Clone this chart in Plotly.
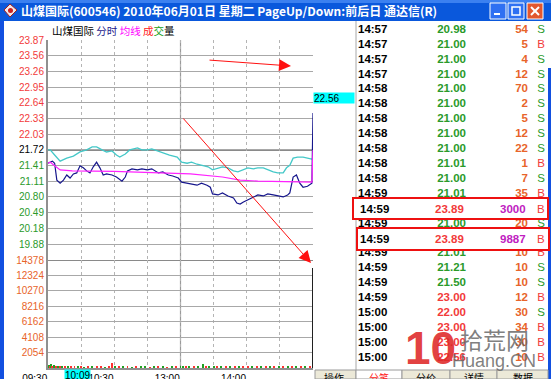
import plotly.graph_objects as go

W, H = 551, 379

# ---------------- data ----------------
title_text = "山煤国际(600546) 2010年06月01日 星期二 PageUp/Down:前后日 通达信(R)"
stock_name = "山煤国际"
prev_close = 21.72

price_ticks = [23.87, 23.56, 23.26, 22.95, 22.64, 22.33, 22.03, 21.72,
               21.41, 21.11, 20.80, 20.49, 20.18, 19.88]
pct_ticks = ["9.90%", "8.48%", "7.07%", "5.66%", "4.24%", "2.83%", "1.41%", "0.00%",
             "1.41%", "2.83%", "4.24%", "5.66%", "7.07%", "8.48%"]
vol_ticks = [14378, 12324, 10270, 8216, 6162, 4108, 2054]
time_tick_min = [0, 60, 120, 180]
time_tick_text = ["09:30", "10:30", "13:00", "14:00"]

# stock price line (minute index from 09:30, price)
price_min = [0, 2, 4, 6, 8, 11, 14, 17, 20, 23, 26, 29, 32, 35, 38, 41, 44, 47, 50, 53,
             58, 62, 67, 70, 72, 76, 81, 85, 90, 94, 97, 100, 104, 109, 113, 118, 121, 126,
             130, 135, 139, 144, 147, 149, 154, 158, 163, 168, 171, 174, 177, 181, 186, 190,
             195, 199, 204, 208, 213, 217, 219, 222, 225, 228, 231, 235, 239, 240]
price_val = [21.46, 21.48, 21.50, 21.46, 21.13, 21.07, 21.13, 21.23, 21.17, 21.25, 21.27,
             21.41, 21.37, 21.31, 21.27, 21.39, 21.48, 21.37, 21.23, 21.25, 21.23, 21.19,
             21.11, 21.19, 21.31, 21.35, 21.33, 21.35, 21.33, 21.35, 21.31, 21.27, 21.29,
             21.23, 21.21, 21.17, 21.09, 21.07, 21.05, 21.03, 21.07, 21.03, 20.99, 20.86,
             20.84, 20.88, 20.82, 20.78, 20.68, 20.66, 20.70, 20.74, 20.80, 20.84, 20.82,
             20.86, 20.84, 20.82, 20.80, 20.84, 20.88, 21.19, 21.23, 21.07, 20.99, 21.01,
             21.07, 22.44]

# overlay (index) line, expressed on the same price scale
index_min = [0, 2, 6, 11, 17, 23, 29, 35, 40, 44, 49, 53, 58, 62, 65, 70, 74, 81, 85, 90,
             94, 99, 104, 110, 117, 121, 126, 130, 135, 140, 145, 149, 154, 158, 163, 168,
             172, 177, 181, 186, 190, 195, 199, 204, 208, 213, 216, 219, 222, 226, 231, 235,
             239]
index_val = [21.72, 21.72, 21.62, 21.50, 21.56, 21.60, 21.68, 21.72, 21.78, 21.78, 21.72,
             21.68, 21.70, 21.62, 21.58, 21.64, 21.72, 21.76, 21.72, 21.72, 21.74, 21.70,
             21.66, 21.62, 21.58, 21.48, 21.46, 21.48, 21.44, 21.42, 21.39, 21.33, 21.37,
             21.39, 21.37, 21.31, 21.29, 21.33, 21.37, 21.35, 21.37, 21.37, 21.33, 21.29,
             21.27, 21.27, 21.37, 21.42, 21.56, 21.58, 21.58, 21.56, 21.54]

# average price line
avg_min = [0, 2, 11, 22, 60, 113, 129, 158, 174, 190, 222, 239, 240]
avg_val = [21.46, 21.48, 21.33, 21.31, 21.30, 21.27, 21.25, 21.19, 21.13, 21.11, 21.09,
           21.09, 21.72]

# volume bars (minute, lots, direction 1=up -1=down 0=flat)
vol_min = [1, 2, 3, 4, 5, 6, 7, 9, 11, 13, 15, 18, 21, 24, 27, 30, 33, 36, 40, 44, 48, 52,
           55, 58, 61, 64, 68, 72, 76, 80, 84, 88, 92, 96, 100, 104, 108, 112, 116, 120,
           122, 125, 128, 132, 136, 140, 143, 146, 150, 153, 157, 161, 165, 169, 173, 177,
           181, 185, 189, 193, 197, 201, 205, 209, 213, 217, 221, 225, 229, 233, 237, 240]
vol_val = [420, 300, 520, 260, 380, 240, 300, 200, 260, 180, 150, 200, 170, 140, 160, 150,
           130, 180, 150, 140, 170, 130, 160, 640, 200, 170, 150, 140, 130, 150, 140, 160,
           130, 150, 170, 140, 130, 150, 140, 160, 250, 180, 160, 140, 170, 520, 200, 260,
           180, 150, 170, 140, 160, 150, 170, 140, 330, 160, 150, 180, 140, 160, 150, 170,
           140, 160, 180, 150, 170, 160, 180, 13300]
vol_dir = [-1, 1, -1, 1, -1, -1, 1, -1, 1, -1, 1, -1, 1, 1, -1, 1, -1, 1, -1, 1, 1, -1,
           1, 1, -1, 1, -1, 1, -1, 1, -1, -1, 1, -1, 1, -1, 1, -1, 1, -1, -1, 1, -1, 1,
           -1, -1, 1, -1, -1, 1, -1, 1, -1, 1, -1, 1, 1, -1, 1, -1, 1, -1, 1, -1, 1, -1,
           1, -1, 1, -1, 1, 0]

# cursor labels
cursor_time = "10:09"
cursor_min = 39
cursor_price = "22.56"

# tick-by-tick trades (right panel)
trade_time = ["14:57", "14:57", "14:57", "14:57", "14:58", "14:58", "14:58", "14:58",
              "14:58", "14:58", "14:58", "14:59", "14:59", "14:59", "14:59", "14:59",
              "14:59", "14:59", "14:59", "15:00", "15:00", "15:00", "15:00"]
trade_price = [20.98, 21.00, 21.00, 21.00, 21.00, 21.00, 21.00, 21.00, 21.00, 21.01,
               21.00, 21.01, 23.89, 21.00, 23.89, 21.01, 21.21, 21.50, 23.00, 22.00,
               23.00, 23.00, 22.56]
trade_vol = [54, 5, 4, 12, 70, 2, 5, 12, 22, 1, 7, 35, 3000, 20, 9887, 10, 10, 10, 12, 30,
             34, 30, 10]
trade_side = ["S", "B", "S", "S", "S", "S", "S", "S", "S", "B", "S", "B", "B", "S", "B",
              "B", "S", "S", "B", "S", "B", "B", "B"]
highlight_rows = [12, 14]

tab_labels = ["分笔", "分价", "详情", "数据"]
button_label = "操作"
legend_parts = [("山煤国际", "#000000"), ("分时", "#1a1a8c"), ("均线", "#ff00ff"),
                ("成", "#ff2020"), ("交", "#20a020"), ("量", "#000000")]

# ---------------- helpers ----------------
def px(x):
    return x / W


def py(y):
    return 1 - y / H


RED, GREEN, BLACK = "#f23a3a", "#2a9a2a", "#000000"
ORANGE = "#e8642a"
FONT = "Liberation Sans, Arial, sans-serif"
CJK = "Noto Sans CJK SC"


def span(t, c):
    return f"<span style='color:{c}'>{t}</span>"


def pcolor(v):
    if abs(v - prev_close) < 1e-9:
        return BLACK
    return RED if v > prev_close else GREEN


def note(x, y, text, xanchor="center", yanchor="middle", **kw):
    d = dict(xref="paper", yref="paper", x=px(x), y=py(y), text=text, showarrow=False,
             xanchor=xanchor, yanchor=yanchor)
    d.update(kw)
    return d


# price axis scale (23.87 at y=40px, 19.88 at y=244px, panel to y=260px)
p_per_px = (price_ticks[0] - price_ticks[-1]) / (244 - 40)
p_bottom = price_ticks[0] - (260 - 40) * p_per_px

fig = go.Figure()

fig.add_trace(go.Scatter(x=index_min, y=index_val, mode="lines",
                         line=dict(color="#44c8c8", width=1.3), xaxis="x", yaxis="y",
                         hoverinfo="skip"))
fig.add_trace(go.Scatter(x=price_min, y=price_val, mode="lines",
                         line=dict(color="#16168c", width=1.2), xaxis="x", yaxis="y",
                         hoverinfo="skip"))
fig.add_trace(go.Scatter(x=avg_min, y=avg_val, mode="lines",
                         line=dict(color="#ff22ff", width=1.2), xaxis="x", yaxis="y",
                         hoverinfo="skip"))
vcol = ["#ff3030" if d > 0 else ("#20a020" if d < 0 else "#202020") for d in vol_dir]
fig.add_trace(go.Bar(x=vol_min, y=vol_val, width=0.9, marker=dict(color=vcol, line=dict(width=0)),
                     xaxis="x", yaxis="y2", hoverinfo="skip"))

# trade list as text traces on a pixel-like overlay axis
rows = list(range(len(trade_time)))
norm = [i for i in rows if i not in highlight_rows]
price_col = [RED if p > prev_close else GREEN for p in trade_price]
vol_col = ["#c020c0" if v >= 1000 else ORANGE for v in trade_vol]
side_col = [RED if s == "B" else GREEN for s in trade_side]
lf = dict(family=FONT, size=11.5)
fig.add_trace(go.Scatter(x=[358] * len(norm), y=norm, mode="text",
                         text=[f"<b>{trade_time[i]}</b>" for i in norm],
                         textposition="middle right",
                         textfont=dict(color=BLACK, **lf), xaxis="x2", yaxis="y5",
                         hoverinfo="skip"))
fig.add_trace(go.Scatter(x=[466] * len(norm), y=norm, mode="text",
                         text=[f"<b>{trade_price[i]:.2f}</b>" for i in norm],
                         textposition="middle left",
                         textfont=dict(color=[price_col[i] for i in norm], **lf),
                         xaxis="x2", yaxis="y5", hoverinfo="skip"))
fig.add_trace(go.Scatter(x=[528] * len(norm), y=norm, mode="text",
                         text=[f"<b>{trade_vol[i]}</b>" for i in norm],
                         textposition="middle left",
                         textfont=dict(color=[vol_col[i] for i in norm], **lf),
                         xaxis="x2", yaxis="y5", hoverinfo="skip"))
fig.add_trace(go.Scatter(x=[541] * len(norm), y=norm, mode="text",
                         text=[trade_side[i] for i in norm],
                         textposition="middle center",
                         textfont=dict(color=[side_col[i] for i in norm], **lf),
                         xaxis="x2", yaxis="y5", hoverinfo="skip"))

row0, row_h = 30, 14.9

shapes = []
annotations = []

# window chrome
shapes += [
    dict(type="rect", xref="paper", yref="paper", x0=0, x1=1, y0=py(21), y1=1,
         fillcolor="#0a58dc", line=dict(width=0), layer="above"),
    dict(type="rect", xref="paper", yref="paper", x0=0, x1=1, y0=py(3), y1=1,
         fillcolor="#3b80f0", line=dict(width=0), layer="above"),
    dict(type="rect", xref="paper", yref="paper", x0=0, x1=px(4), y0=0, y1=py(21),
         fillcolor="#1250e0", line=dict(width=0), layer="above"),
    dict(type="rect", xref="paper", yref="paper", x0=px(548), x1=1, y0=0, y1=py(68),
         fillcolor="#1250e0", line=dict(width=0), layer="above"),
    # buttons
    dict(type="rect", xref="paper", yref="paper", x0=px(490), x1=px(506), y0=py(19), y1=py(3),
         fillcolor="#2f70f2", line=dict(color="white", width=1), layer="above"),
    dict(type="rect", xref="paper", yref="paper", x0=px(508), x1=px(524), y0=py(19), y1=py(3),
         fillcolor="#2f70f2", line=dict(color="white", width=1), layer="above"),
    dict(type="rect", xref="paper", yref="paper", x0=px(527), x1=px(543), y0=py(19), y1=py(3),
         fillcolor="#e2572e", line=dict(color="white", width=1), layer="above"),
    dict(type="rect", xref="paper", yref="paper", x0=px(494), x1=px(500), y0=py(15), y1=py(13),
         fillcolor="white", line=dict(width=0), layer="above"),
    dict(type="rect", xref="paper", yref="paper", x0=px(512), x1=px(520), y0=py(15), y1=py(7),
         fillcolor="rgba(0,0,0,0)", line=dict(color="white", width=1.5), layer="above"),
    dict(type="line", xref="paper", yref="paper", x0=px(531), x1=px(539), y0=py(7), y1=py(15),
         line=dict(color="white", width=2), layer="above"),
    dict(type="line", xref="paper", yref="paper", x0=px(531), x1=px(539), y0=py(15), y1=py(7),
         line=dict(color="white", width=2), layer="above"),
    # icon
    dict(type="path", xref="paper", yref="paper",
         path=f"M {px(4)} {py(10)} L {px(10)} {py(4)} L {px(17)} {py(10)} L {px(10)} {py(17)} Z",
         fillcolor="#f4e8e8", line=dict(color="#a02020", width=1), layer="above"),
    dict(type="circle", xref="paper", yref="paper", x0=px(8), x1=px(13), y0=py(13), y1=py(8),
         fillcolor="#d02020", line=dict(width=0), layer="above"),
]

# chart special lines
shapes += [
    dict(type="line", xref="x", yref="paper", x0=120, x1=120, y0=py(368), y1=py(40),
         line=dict(color="#9a9a9a", width=1.2), layer="below"),
    dict(type="line", xref="paper", yref="y", x0=px(48), x1=px(313), y0=prev_close, y1=prev_close,
         line=dict(color="#8a8a8a", width=2), layer="below"),
    dict(type="line", xref="paper", yref="y2", x0=px(48), x1=px(313), y0=vol_ticks[0], y1=vol_ticks[0],
         line=dict(color="#8a8a8a", width=2), layer="below"),
    # list panel border
    dict(type="line", xref="paper", yref="paper", x0=px(356), x1=px(356), y0=py(370), y1=py(21),
         line=dict(color="#a8a8a8", width=1), layer="below"),
]

# highlight boxes around big trades
box_px = {12: (353, 548, 198, 219), 14: (357, 549, 228, 250)}
for r in highlight_rows:
    x0, x1, y0, y1 = box_px[r]
    shapes.append(dict(type="rect", xref="paper", yref="paper", x0=px(x0), x1=px(x1),
                       y0=py(y1), y1=py(y0), fillcolor="white",
                       line=dict(color="#ee1111", width=2), layer="above"))
    annotations += [
        dict(xref="x2", yref="y5", x=358, y=r, text=f"<b>{trade_time[r]}</b>", showarrow=False,
             xanchor="left", yanchor="middle", font=dict(color=BLACK, **lf)),
        dict(xref="x2", yref="y5", x=466, y=r, text=f"<b>{trade_price[r]:.2f}</b>", showarrow=False,
             xanchor="right", yanchor="middle", font=dict(color=price_col[r], **lf)),
        dict(xref="x2", yref="y5", x=528, y=r, text=f"<b>{trade_vol[r]}</b>", showarrow=False,
             xanchor="right", yanchor="middle", font=dict(color=vol_col[r], **lf)),
        dict(xref="x2", yref="y5", x=541, y=r, text=trade_side[r], showarrow=False,
             xanchor="center", yanchor="middle", font=dict(color=side_col[r], **lf)),
    ]

# bottom buttons / tabs
shapes.append(dict(type="rect", xref="paper", yref="paper", x0=px(315), x1=px(356), y0=0,
                   y1=py(370), fillcolor="#ece9d8", line=dict(color="#9a9a9a", width=1),
                   layer="above"))
annotations.append(note(334, 377, button_label, font=dict(family=CJK, size=10, color="black")))
tab_edges = [356, 402, 450, 497, 548]
for i, lab in enumerate(tab_labels):
    shapes.append(dict(type="rect", xref="paper", yref="paper", x0=px(tab_edges[i]),
                       x1=px(tab_edges[i + 1]), y0=0, y1=py(370),
                       fillcolor="white" if i == 0 else "#ece9d8",
                       line=dict(color="#9a9a9a", width=1), layer="above"))
    annotations.append(note((tab_edges[i] + tab_edges[i + 1]) / 2, 377, lab,
                            font=dict(family=CJK, size=10,
                                      color="#ff2020" if i == 0 else "black")))

# title + legend
annotations.append(note(19, 11, f"<b>{title_text}</b>", xanchor="left",
                        font=dict(family=CJK, size=12, color="white")))
annotations.append(note(50, 30, " ".join(span(t, c) for t, c in legend_parts[:3]) + " " +
                        "".join(span(t, c) for t, c in legend_parts[3:]), xanchor="left",
                        font=dict(family=CJK, size=10.5, color="black")))

# cursor labels
annotations.append(dict(xref="x", yref="paper", x=cursor_min, y=py(375), text=cursor_time,
                        showarrow=False, xanchor="right", yanchor="middle", bgcolor="#00ffff",
                        borderpad=0, font=dict(family=FONT, size=10, color="black")))
annotations.append(note(313, 98, cursor_price, xanchor="left", align="left", width=40, height=10,
                        bgcolor="#00ffff", borderpad=0,
                        font=dict(family=FONT, size=10, color="black")))

# arrows
annotations += [
    dict(xref="paper", yref="paper", x=px(291), y=py(66), ax=-83, ay=-6, text="",
         showarrow=True, arrowhead=2, arrowsize=2.4, arrowwidth=1, arrowcolor="#ff1010",
         standoff=0),
    dict(xref="paper", yref="paper", x=px(311), y=py(263), ax=-129, ay=-146, text="",
         showarrow=True, arrowhead=2, arrowsize=2.4, arrowwidth=1, arrowcolor="#ff1010",
         standoff=0),
]

# watermark
annotations += [
    note(430, 348, "<b>10</b>", font=dict(family=FONT, size=46, color="rgba(222,40,40,0.88)")),
    note(494, 339, "拾荒网", font=dict(family=CJK, size=23, color="rgba(105,105,105,0.85)")),
    note(494, 361, "Huang.CN", font=dict(family=FONT, size=18, color="rgba(105,105,105,0.85)")),
]

tickfont = dict(family=FONT, size=10)
fig.update_layout(
    width=W, height=H, margin=dict(l=0, r=0, t=0, b=0, pad=0, autoexpand=False),
    paper_bgcolor="white", plot_bgcolor="rgba(0,0,0,0)",
    showlegend=False, hovermode=False, bargap=0,
    xaxis=dict(domain=[px(48), px(313)], range=[0, 240], anchor="y2", automargin=False,
               tickmode="array", tickvals=time_tick_min, ticktext=time_tick_text,
               ticklabelposition="outside left", ticks="", tickfont=dict(color="black", **tickfont),
               showgrid=True, gridcolor="#b4b4b4", griddash="dot", gridwidth=1,
               minor=dict(dtick=30, tick0=0, showgrid=True, gridcolor="#b4b4b4", griddash="dot"),
               showline=True, linecolor="#909090", linewidth=1.5, zeroline=False),
    yaxis=dict(domain=[py(260), py(40)], range=[p_bottom, price_ticks[0]], anchor="x",
               automargin=False, tickmode="array", tickvals=price_ticks,
               ticktext=[span(f"{v:.2f}", pcolor(v)) for v in price_ticks],
               tickfont=tickfont, ticks="", showgrid=True, gridcolor="#a8a8a8", gridwidth=1,
               zeroline=False, showline=True, linecolor="#909090", linewidth=2),
    yaxis2=dict(domain=[py(368), py(260)], range=[0, vol_ticks[0]], anchor="x",
                automargin=False, tickmode="array", tickvals=vol_ticks,
                ticktext=[span(str(v), ORANGE) for v in vol_ticks],
                tickfont=tickfont, ticks="", showgrid=True, gridcolor="#a8a8a8", gridwidth=1,
                zeroline=False, showline=True, linecolor="#909090", linewidth=2),
    yaxis3=dict(overlaying="y", side="right", anchor="x", range=[p_bottom, price_ticks[0]],
                automargin=False, tickmode="array", tickvals=price_ticks,
                ticktext=[span(t, pcolor(v)) for t, v in zip(pct_ticks, price_ticks)],
                tickfont=tickfont, ticks="", showgrid=False, zeroline=False,
                showline=True, linecolor="#909090", linewidth=1),
    yaxis4=dict(overlaying="y2", side="right", anchor="x", range=[0, vol_ticks[0]],
                automargin=False, tickmode="array", tickvals=vol_ticks,
                ticktext=[span(str(v), ORANGE) for v in vol_ticks],
                tickfont=tickfont, ticks="", showgrid=False, zeroline=False,
                showline=True, linecolor="#505050", linewidth=1),
    xaxis2=dict(domain=[0, 1], range=[0, W], visible=False, anchor="y5", fixedrange=True,
                automargin=False),
    yaxis5=dict(domain=[0, 1], range=[(H - row0) / row_h, -row0 / row_h], visible=False,
                anchor="x2", fixedrange=True, automargin=False),
    shapes=shapes,
    annotations=annotations,
)

fig.write_html("out.html", config={"displayModeBar": False},
               post_script="document.body.style.margin='0';document.body.style.overflow='hidden';")
